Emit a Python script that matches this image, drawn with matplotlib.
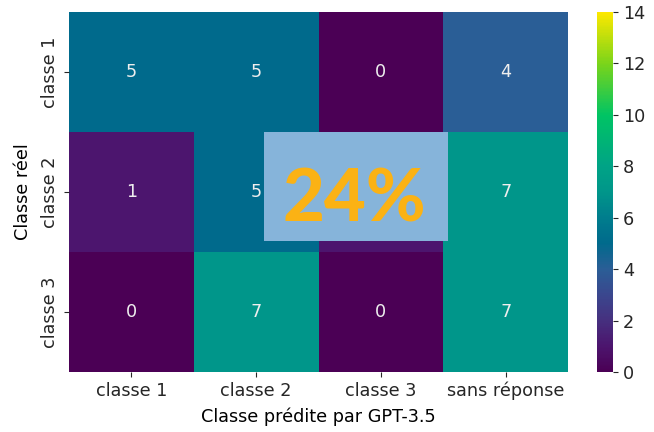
import matplotlib
matplotlib.use("Agg")
import matplotlib.pyplot as plt
import numpy as np
import seaborn as sns
from matplotlib.patches import Rectangle
from matplotlib.colors import LinearSegmentedColormap

true_labels = ["classe 1", "classe 2", "classe 3"]
pred_labels = ["classe 1", "classe 2", "classe 3", "sans réponse"]
counts = [
    [5, 5, 0, 4],
    [1, 5, 1, 7],
    [0, 7, 0, 7],
]
accuracy_text = "24%"

# vivid viridis-like palette
vivid = LinearSegmentedColormap.from_list("vivid_viridis", [
    (0 / 14, "#4b0055"),
    (1 / 14, "#4c156e"),
    (2 / 14, "#46307f"),
    (3 / 14, "#3a478e"),
    (4 / 14, "#2a5e96"),
    (5 / 14, "#006a8c"),
    (6 / 14, "#007d8d"),
    (7 / 14, "#00968a"),
    (8 / 14, "#00a386"),
    (10 / 14, "#00c464"),
    (12 / 14, "#7ad41a"),
    (14 / 14, "#fde800"),
])

fs = 12.7
fig = plt.figure(figsize=(6.54, 4.32), dpi=100)
ax = fig.add_axes([69 / 654, 1 - 372 / 432, (568 - 69) / 654, 360 / 432])
cax = fig.add_axes([597 / 654, 1 - 372 / 432, 16 / 654, 360 / 432])

sns.heatmap(np.array(counts), annot=True, fmt="d", cmap=vivid, vmin=0, vmax=14,
            xticklabels=pred_labels, yticklabels=true_labels, ax=ax, cbar_ax=cax,
            annot_kws={"fontsize": fs, "color": "#eeeeee"})
ax.set_xlabel("Classe prédite par GPT-3.5", fontsize=fs, labelpad=5)
ax.set_ylabel("Classe réel", fontsize=fs, labelpad=7)
ax.tick_params(labelsize=fs, colors="#262626")
cax.tick_params(labelsize=fs, colors="#262626")

ax.add_patch(Rectangle((1.563, 1.0), 1.475, 0.908, facecolor="#86b4da",
                       edgecolor="none", zorder=5))
ax.text(2.285, 1.75, accuracy_text, ha="center", va="baseline", fontsize=52,
        fontweight="black", family="Lato", color="#fbb214", zorder=6)

fig.savefig("out.png", dpi=100)
